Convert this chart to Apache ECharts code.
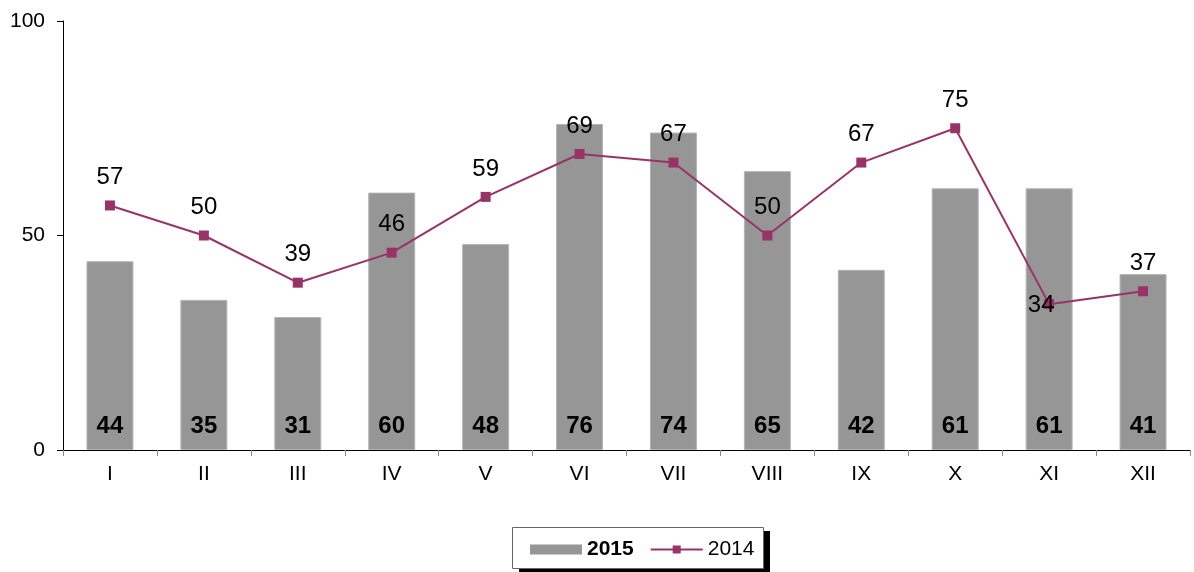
<!DOCTYPE html>
<html>
<head>
<meta charset="utf-8">
<script src="https://cdn.jsdelivr.net/npm/echarts@6/dist/echarts.min.js"></script>
<style>
  html, body { margin: 0; padding: 0; background: #fff; }
  #chart { width: 1194px; height: 572px; }
</style>
</head>
<body>
<div id="chart"></div>
<script>
// Monthly values, Roman-numeral months
const months = ['I', 'II', 'III', 'IV', 'V', 'VI', 'VII', 'VIII', 'IX', 'X', 'XI', 'XII'];
const values2015 = [44, 35, 31, 60, 48, 76, 74, 65, 42, 61, 61, 41];
const values2014 = [57, 50, 39, 46, 59, 69, 67, 50, 67, 75, 34, 37];
const yTicks = [0, 50, 100];

const FONT = 'Liberation Sans, Arial, sans-serif';

const lineData = values2014.map((v, i) => {
  // the November label sits beside its point rather than above it
  if (months[i] === 'XI') {
    return { value: v, label: { offset: [-8, 29] } };
  }
  return v;
});

const chart = echarts.init(document.getElementById('chart'));
chart.setOption({
  animation: false,
  textStyle: { fontFamily: FONT },
  grid: { left: 63, right: 4, top: 21, bottom: 122, containLabel: false },
  // framed legend box with a solid drop shadow
  graphic: [
    { type: 'rect', z: 0, shape: { x: 519, y: 531, width: 251, height: 45 }, style: { fill: '#000' } },
    { type: 'rect', z: 1, shape: { x: 512.5, y: 527.5, width: 251, height: 41 }, style: { fill: '#fff', stroke: '#666', lineWidth: 1 } }
  ],
  legend: {
    left: 525,
    top: 534,
    padding: 5,
    itemGap: 16,
    itemWidth: 52,
    itemHeight: 10,
    textStyle: { fontFamily: FONT, fontSize: 21, color: '#000', lineHeight: 8 },
    formatter: name => name === '2015' ? '{b|' + name + '}' : name,
    data: [
      { name: '2015', icon: 'rect', itemStyle: { borderWidth: 0 }, textStyle: { rich: { b: { fontWeight: 'bold', fontSize: 21, fontFamily: FONT, color: '#000' } } } },
      { name: '2014' }
    ]
  },
  xAxis: {
    type: 'category',
    data: months,
    boundaryGap: true,
    axisLine: { lineStyle: { color: '#000', width: 1 } },
    axisTick: { show: true, alignWithLabel: false, length: 6, lineStyle: { color: '#888' } },
    axisLabel: { color: '#000', fontSize: 21, margin: 14 }
  },
  yAxis: {
    type: 'value',
    min: yTicks[0],
    max: yTicks[yTicks.length - 1],
    interval: yTicks[1] - yTicks[0],
    axisLine: { show: true, lineStyle: { color: '#000', width: 1 } },
    axisTick: { show: true, length: 6, lineStyle: { color: '#000' } },
    splitLine: { show: false },
    axisLabel: { color: '#000', fontSize: 21, margin: 18 }
  },
  series: [
    {
      name: '2015',
      type: 'bar',
      data: values2015,
      barWidth: '50%',
      itemStyle: { color: '#969696', borderColor: '#b4b4b4', borderWidth: 1 },
      label: {
        show: true,
        position: 'insideBottom',
        distance: 12,
        color: '#000',
        fontWeight: 'bold',
        fontSize: 24,
        fontFamily: FONT
      },
      z: 1
    },
    {
      name: '2014',
      type: 'line',
      data: lineData,
      color: '#993366',
      lineStyle: { color: '#993366', width: 2 },
      itemStyle: { color: '#993366' },
      symbol: 'rect',
      symbolSize: 10,
      label: {
        show: true,
        position: 'top',
        distance: 11,
        color: '#000',
        fontSize: 24,
        fontFamily: FONT
      },
      z: 3
    }
  ]
});
</script>
</body>
</html>
